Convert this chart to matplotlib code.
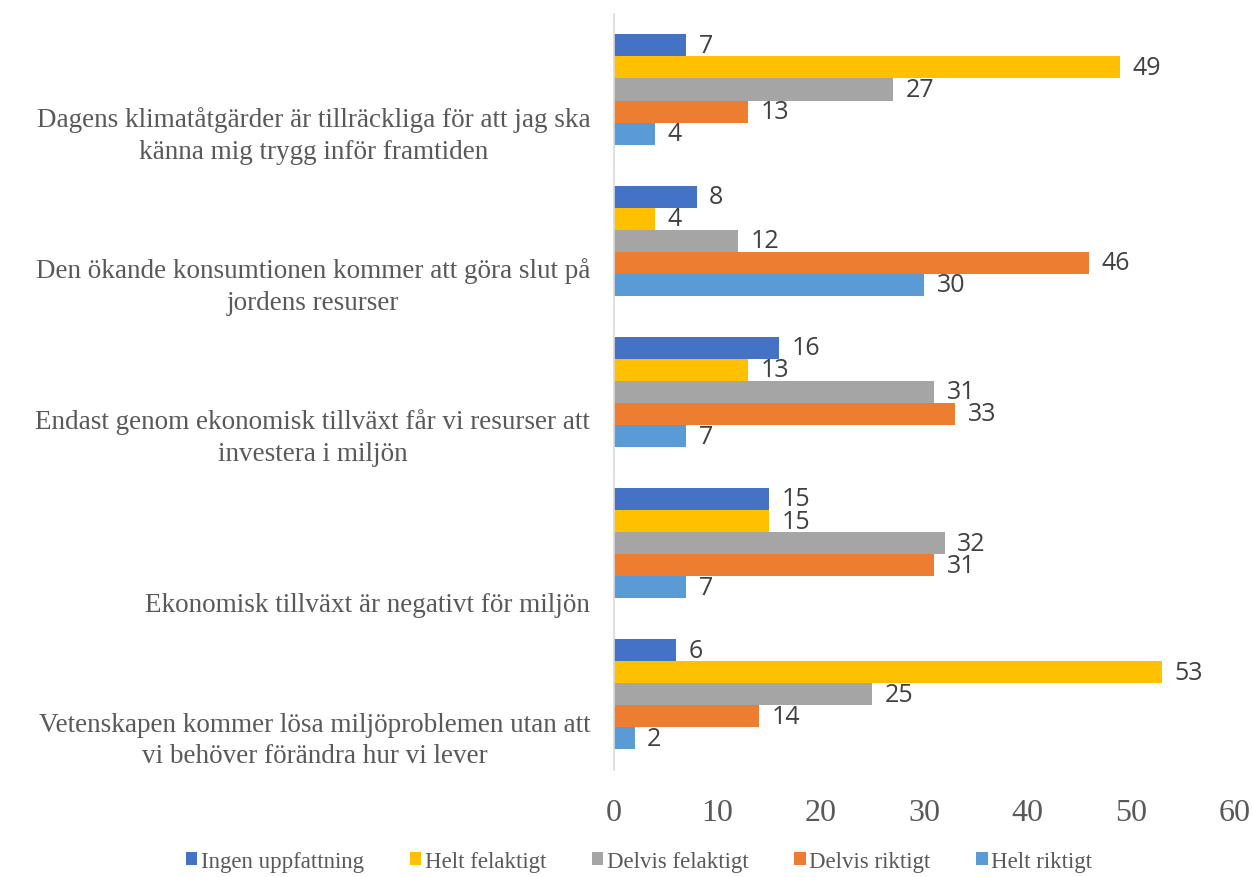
import matplotlib.pyplot as plt
import numpy as np
from matplotlib.patches import Patch

# data
statements = [
    'Dagens klimatåtgärder är tillräckliga för att jag ska\nkänna mig trygg inför framtiden',
    'Den ökande konsumtionen kommer att göra slut på\njordens resurser',
    'Endast genom ekonomisk tillväxt får vi resurser att\ninvestera i miljön',
    'Ekonomisk tillväxt är negativt för miljön',
    'Vetenskapen kommer lösa miljöproblemen utan att\nvi behöver förändra hur vi lever',
]
series = ['Ingen uppfattning', 'Helt felaktigt', 'Delvis felaktigt', 'Delvis riktigt', 'Helt riktigt']
ingen_uppfattning = [7, 8, 16, 15, 6]
helt_felaktigt = [49, 4, 13, 15, 53]
delvis_felaktigt = [27, 12, 31, 32, 25]
delvis_riktigt = [13, 46, 33, 31, 14]
helt_riktigt = [4, 30, 7, 7, 2]
values = [ingen_uppfattning, helt_felaktigt, delvis_felaktigt, delvis_riktigt, helt_riktigt]
colors = ['#4472C4', '#FFC000', '#A5A5A5', '#ED7D31', '#5B9BD5']

grey = '#595959'
serif = ['Liberation Serif', 'DejaVu Serif']

fig = plt.figure(figsize=(12.53, 8.78), dpi=100)
ax = fig.add_axes([0.490, 0.122, 0.495, 0.861])

y = np.arange(len(statements))
h = 0.146
for i, (name, vals, c) in enumerate(zip(series, values, colors)):
    pos = y + (i - 2) * h
    bars = ax.barh(pos, vals, height=h, color=c, label=name)
    ax.bar_label(bars, padding=9, fontsize=18, color='#404040', family='Open Sans')

ax.set_xlim(0, 60)
ax.set_ylim(len(statements) - 0.5, -0.5)
ax.set_xticks(range(0, 61, 10))
ax.set_yticks(y + 0.49)
ax.set_yticklabels(statements)
plt.setp(ax.get_yticklabels(), va='bottom', multialignment='center',
         family=serif, fontsize=19.5, color=grey, linespacing=1.35)
plt.setp(ax.get_xticklabels(), family=serif, fontsize=23, color=grey)
ax.tick_params(axis='both', length=0)
ax.tick_params(axis='y', pad=17)
ax.tick_params(axis='x', pad=20)

for s in ['top', 'right', 'bottom']:
    ax.spines[s].set_visible(False)
ax.spines['left'].set_color('#D9D9D9')
ax.spines['left'].set_linewidth(1.2)

handles = [Patch(facecolor=c, label=n) for n, c in zip(series, colors)]
leg = fig.legend(handles=handles, loc='center', bbox_to_anchor=(0.51, 0.018), ncol=5,
                 frameon=False, handlelength=0.5, handleheight=0.5, handletextpad=0.15,
                 columnspacing=2.0, prop={'family': serif, 'size': 16.5})
for t in leg.get_texts():
    t.set_color(grey)

fig.savefig('out.png', dpi=100)
